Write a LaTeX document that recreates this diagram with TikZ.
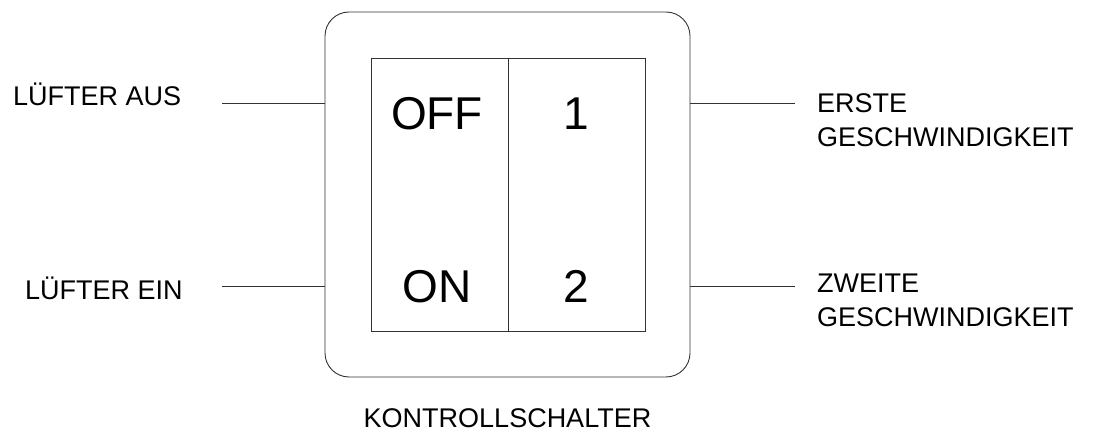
\documentclass[tikz,border=0pt]{standalone}
\usepackage{fontspec}
\setmainfont{Liberation Sans}
\begin{document}
\begin{tikzpicture}[x=1pt,y=-1pt,
  ln/.style={draw=black!80,line width=0.9pt},
  lbl/.style={inner sep=0pt,anchor=base west,align=left,font=\fontsize{27}{34}\selectfont},
  big/.style={inner sep=0pt,anchor=base,font=\fontsize{46}{50}\selectfont}]
\useasboundingbox (0,0) rectangle (1093,433);
% outer switch plate
\node[ln,rounded corners=24pt,minimum width=365pt,minimum height=365pt,inner sep=0pt] (plate) at (507.5,194.5) {};
% rocker cells
\node[ln,minimum width=137pt,minimum height=273pt,inner sep=0pt] (left) at (439.5,194.5) {};
\node[ln,minimum width=137pt,minimum height=273pt,inner sep=0pt] (right) at (576.5,194.5) {};
% texts in cells
\node[big] (off) at (437,130) {OFF};
\node[big] (one) at (576,130) {1};
\node[big] (on) at (437,302) {ON};
\node[big] (two) at (576,302) {2};
% side labels
\node[lbl] (aus) at (13,106) {LÜFTER AUS};
\node[lbl] (ein) at (25,299) {LÜFTER EIN};
\node[lbl] (erste) at (817,147) {ERSTE\\GESCHWINDIGKEIT};
\node[lbl] (zweite) at (817,326) {ZWEITE\\GESCHWINDIGKEIT};
\node[inner sep=0pt,anchor=base,font=\fontsize{27}{34}\selectfont] (title) at (507.5,427) {KONTROLLSCHALTER};
% leader lines
\coordinate (la) at (222,103);
\coordinate (le) at (222,286);
\coordinate (ra) at (795,103);
\coordinate (re) at (795,286);
\draw[ln] (la) -- (la -| plate.west);
\draw[ln] (le) -- (le -| plate.west);
\draw[ln] (ra -| plate.east) -- (ra);
\draw[ln] (re -| plate.east) -- (re);
\end{tikzpicture}
\end{document}
